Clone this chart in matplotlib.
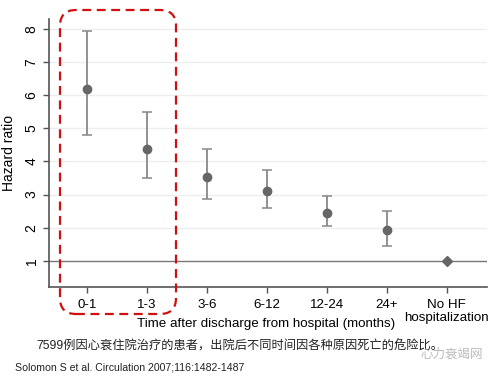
import matplotlib
matplotlib.use("Agg")
import matplotlib.pyplot as plt
from matplotlib.patches import FancyBboxPatch

# data
periods = ["0-1", "1-3", "3-6", "6-12", "12-24", "24+", "No HF\nhospitalization"]
hr = [6.18, 4.38, 3.53, 3.12, 2.45, 1.92, 1.0]
ci_low = [4.80, 3.49, 2.86, 2.59, 2.05, 1.46, 1.0]
ci_high = [7.93, 5.49, 4.38, 3.74, 2.95, 2.50, 1.0]
yticks = [1, 2, 3, 4, 5, 6, 7, 8]

plt.rcParams['font.family'] = ['Liberation Sans', 'Noto Sans CJK SC', 'DejaVu Sans']

fig = plt.figure(figsize=(4.97, 3.78), dpi=100)
ax = fig.add_axes([0.0986, 0.2415, 0.8814, 0.7082])

for y in yticks[1:]:
    ax.axhline(y, color='#eeeeee', lw=1, zorder=0)
ax.axhline(1, color='#777777', lw=1, zorder=1)

xs = list(range(len(periods)))
n_err = len(periods) - 1
ax.errorbar(xs[:n_err], hr[:n_err],
            yerr=[[h - l for h, l in zip(hr[:n_err], ci_low[:n_err])],
                  [u - h for h, u in zip(hr[:n_err], ci_high[:n_err])]],
            fmt='o', color='#666666', ecolor='#888888', elinewidth=1.3,
            capsize=3.5, capthick=1.1, markersize=6, zorder=3)
ax.plot(xs[-1], hr[-1], 'D', color='#666666', markersize=5, zorder=3)

ax.set_xlim(-0.63, 6.67)
ax.set_ylim(0.226, 8.29)
ax.set_xticks(xs)
ax.set_xticklabels(periods, fontsize=9.6, linespacing=1.05)
ax.set_yticks(yticks)
ax.set_yticklabels([str(t) for t in yticks], fontsize=10, rotation=90, va='center')
ax.tick_params(direction='out', length=4, color='#555555', width=1)
ax.tick_params(axis='x', pad=5)
for s in ['top', 'right']:
    ax.spines[s].set_visible(False)
for s in ['left', 'bottom']:
    ax.spines[s].set_color('#555555')
    ax.spines[s].set_linewidth(1.2)

ax.set_ylabel("Hazard ratio", fontsize=10, labelpad=6)
fig.text(137 / 497, 1 - 324 / 378, "Time after discharge from hospital (months)",
         fontsize=9.6, ha='left', va='center')

# dashed highlight box around first two periods (inches)
box = FancyBboxPatch((0.60, 0.64), 1.16, 3.04,
                     boxstyle="round,pad=0,rounding_size=0.16",
                     transform=fig.dpi_scale_trans, fill=False,
                     edgecolor='#d01010', lw=1.6, linestyle=(0, (4, 2.5)),
                     zorder=10)
fig.add_artist(box)

fig.text(36 / 497, 1 - 346 / 378,
         "7599例因心衰住院治疗的患者，出院后不同时间因各种原因死亡的危险比。",
         fontsize=8.8, ha='left', va='center', color='#222222')
fig.text(15 / 497, 1 - 367 / 378, "Solomon S et al. Circulation 2007;116:1482-1487",
         fontsize=7.6, ha='left', va='center', color='#222222')
fig.text(483 / 497, 1 - 355 / 378, "心力衰竭网", fontsize=9,
         ha='right', va='center', color='#bbbbbb')

fig.savefig("out.png", dpi=100)
